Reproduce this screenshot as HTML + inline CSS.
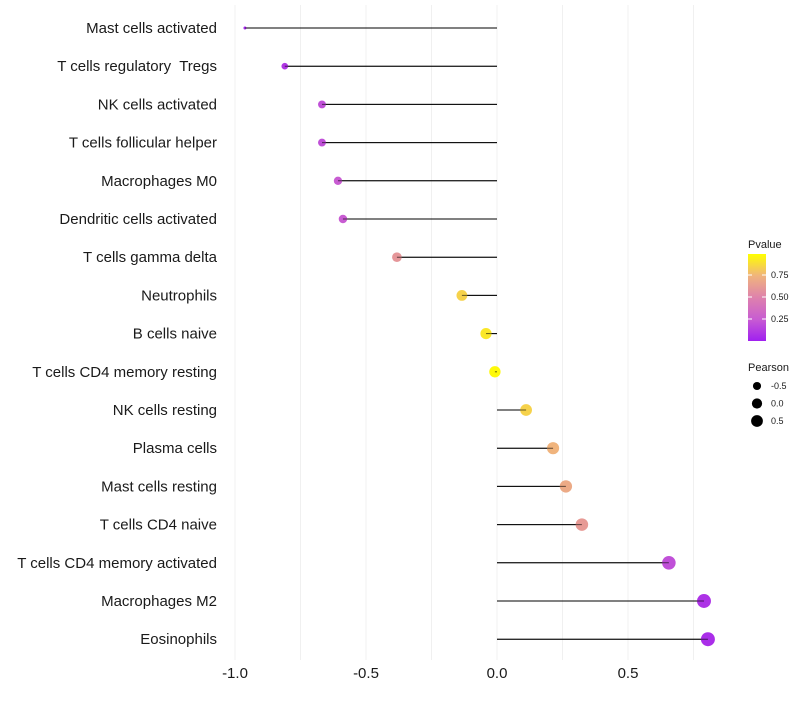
<!DOCTYPE html>
<html><head><meta charset="utf-8"><style>
body{margin:0;background:#fff;font-family:"Liberation Sans",sans-serif}
svg text{font-family:"Liberation Sans",sans-serif;white-space:pre}
</style></head><body>
<svg id="chart" width="800" height="700" xmlns="http://www.w3.org/2000/svg">
<g id="grid"></g>
<g id="marks"></g>
<g id="ylabels"></g>
<g id="xlabels"></g>
<g id="legend"></g>
</svg>
<script>
const categories=["Mast cells activated","T cells regulatory  Tregs","NK cells activated","T cells follicular helper","Macrophages M0","Dendritic cells activated","T cells gamma delta","Neutrophils","B cells naive","T cells CD4 memory resting","NK cells resting","Plasma cells","Mast cells resting","T cells CD4 naive","T cells CD4 memory activated","Macrophages M2","Eosinophils"];
const pearson=[-0.962,-0.81,-0.668,-0.668,-0.607,-0.588,-0.382,-0.134,-0.042,-0.008,0.111,0.214,0.263,0.324,0.656,0.79,0.805];
const pvalues=[0.03,0.1,0.2,0.2,0.25,0.25,0.6,0.85,0.92,0.98,0.85,0.75,0.7,0.62,0.2,0.08,0.06];
const xTicks=[-1.0,-0.5,0.0,0.5];
const xTickLabels=["-1.0","-0.5","0.0","0.5"];
const pTicks=[0.25,0.5,0.75];
const pTickLabels=["0.25","0.50","0.75"];
const sizeLegend=[-0.5,0.0,0.5];
const sizeLegendLabels=["-0.5","0.0","0.5"];

const NS="http://www.w3.org/2000/svg";
const x=v=>497+v*262;
const y=i=>28+i*38.2;
const rad=v=>1.5+5.5*Math.pow(Math.max(0,(v+0.962)/1.767),0.45);
const cstops=[[0,[160,32,240]],[0.25,[200,92,210]],[0.5,[222,130,172]],[0.75,[240,180,125]],[1,[255,255,0]]];
function col(p){p=Math.max(0,Math.min(1,p));let i=0;while(i<cstops.length-2&&p>cstops[i+1][0])i++;
 const [p0,a]=cstops[i],[p1,b]=cstops[i+1];const t=(p-p0)/(p1-p0);
 return `rgb(${a.map((u,k)=>Math.round(u+(b[k]-u)*t)).join(",")})`;}
function mk(t,at,par){const e=document.createElementNS(NS,t);for(const k in at)e.setAttribute(k,at[k]);par.appendChild(e);return e;}
const grid=document.getElementById("grid"),marks=document.getElementById("marks"),yl=document.getElementById("ylabels"),xl=document.getElementById("xlabels"),lg=document.getElementById("legend");
for(let v=-1;v<=0.76;v+=0.25){const l=mk("line",{x1:x(v),x2:x(v),y1:5,y2:660,stroke:"#f0f0f0","stroke-width":1},grid);
 
 }
categories.forEach((c,i)=>{
 const t=mk("text",{x:217,y:y(i)+5,"text-anchor":"end","font-size":15,fill:"#1a1a1a"},yl);t.textContent=c;
 
 
 const l=mk("line",{x1:x(0),x2:x(pearson[i]),y1:y(i),y2:y(i),stroke:"#000","stroke-width":1},marks);
 
 
 const p=mk("circle",{cx:x(pearson[i]),cy:y(i),r:rad(pearson[i]),fill:col(pvalues[i])},marks);
 
 
 const o=mk("line",{x1:x(0),x2:x(pearson[i]),y1:y(i),y2:y(i),stroke:"#000","stroke-width":1,"stroke-opacity":0.6},marks);
 
 
});
xTicks.forEach((v,i)=>{const t=mk("text",{x:x(v),y:678,"text-anchor":"middle","font-size":15,fill:"#1a1a1a"},xl);t.textContent=xTickLabels[i];
 
 });
const defs=mk("defs",{},lg);const g=mk("linearGradient",{id:"pg",x1:0,y1:1,x2:0,y2:0},defs);
for(let s=0;s<=20;s++)mk("stop",{offset:s/20,"stop-color":col(s/20)},g);
const tt=mk("text",{x:748,y:248,"font-size":11,fill:"#1a1a1a"},lg);tt.textContent="Pvalue";


const bar=mk("rect",{x:748,y:254,width:18,height:87,fill:"url(#pg)"},lg);


const py=p=>341-p*88;
pTicks.forEach((p,i)=>{mk("line",{x1:748,x2:752,y1:py(p),y2:py(p),stroke:"#fff"},lg);mk("line",{x1:762,x2:766,y1:py(p),y2:py(p),stroke:"#fff"},lg);
 const t=mk("text",{x:771,y:py(p)+3,"font-size":9,fill:"#1a1a1a"},lg);t.textContent=pTickLabels[i];
 
 });
const st=mk("text",{x:748,y:371,"font-size":11,fill:"#1a1a1a"},lg);st.textContent="Pearson";


sizeLegend.forEach((v,i)=>{const cy=386+i*17.5;
 const c=mk("circle",{cx:757,cy:cy,r:rad(v)*0.9,fill:"#000"},lg);
 
 
 const t=mk("text",{x:771,y:cy+3,"font-size":9,fill:"#1a1a1a"},lg);t.textContent=sizeLegendLabels[i];
 
 });
</script>
</body></html>
